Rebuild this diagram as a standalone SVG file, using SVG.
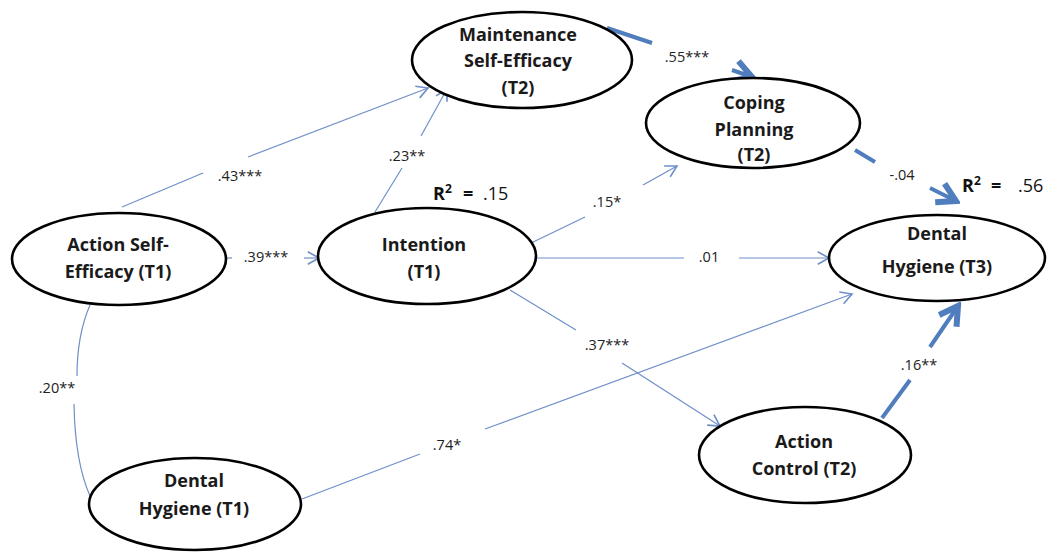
<svg xmlns="http://www.w3.org/2000/svg" width="1048" height="553" viewBox="0 0 1048 553">
<style>
.node ellipse{fill:#fff;stroke:#000;stroke-width:2.6}
.nt{font-family:"Open Sans","Liberation Sans",sans-serif;font-weight:700;font-size:18px;fill:#1a1a1a;text-anchor:middle}
.lbl{font-family:"Open Sans","Liberation Sans",sans-serif;font-size:14.5px;fill:#222;text-anchor:middle}
.r2{font-family:"Open Sans","Liberation Sans",sans-serif;font-size:18px;fill:#111}
.thin{stroke:#6f8fc8;stroke-width:1.2;fill:none}
.thick{stroke:#4f7dbd;stroke-width:4;fill:none;stroke-linecap:butt}
</style>
<defs>
<marker id="ah" markerUnits="userSpaceOnUse" markerWidth="20" markerHeight="20" viewBox="-12 -8 14 16" refX="0" refY="0" orient="auto">
<path d="M-9,-5 L0,0 L-9,5" fill="none" stroke="#6f8fc8" stroke-width="1.3"/>
</marker>
<marker id="ahT" markerUnits="userSpaceOnUse" markerWidth="30" markerHeight="30" viewBox="-16 -10 18 20" refX="0" refY="0" orient="auto">
<path d="M-12,-7 L0,0 L-12,7" fill="none" stroke="#4f7dbd" stroke-width="4"/>
</marker>
</defs>
<rect width="1048" height="553" fill="#fff"/>
<g id="connectors">
<line class="thin" x1="122" y1="207" x2="203" y2="173"/>
<line class="thin" x1="248" y1="157" x2="428" y2="88" marker-end="url(#ah)"/>
<text class="lbl" x="240" y="181">.43***</text>
<line class="thin" x1="375" y1="212" x2="402" y2="168"/>
<line class="thin" x1="421" y1="136" x2="447" y2="89" marker-end="url(#ah)"/>
<text class="lbl" x="407" y="161">.23**</text>
<line class="thin" x1="227" y1="258" x2="232" y2="258"/>
<line class="thin" x1="304" y1="258" x2="319" y2="258" marker-end="url(#ah)"/>
<text class="lbl" x="266" y="262">.39***</text>
<line class="thick" x1="607" y1="28" x2="652" y2="43"/>
<line class="thick" x1="732" y1="70" x2="752" y2="77" marker-end="url(#ahT)"/>
<text class="lbl" x="687" y="62">.55***</text>
<line class="thick" x1="855" y1="150" x2="875" y2="162"/>
<line class="thick" x1="930" y1="188" x2="956" y2="201" marker-end="url(#ahT)"/>
<text class="lbl" x="902" y="180">-.04</text>
<line class="thin" x1="529" y1="244" x2="585" y2="217"/>
<line class="thin" x1="643" y1="185" x2="677" y2="166" marker-end="url(#ah)"/>
<text class="lbl" x="607" y="207">.15*</text>
<line class="thin" x1="536" y1="258" x2="684" y2="258"/>
<line class="thin" x1="739" y1="258" x2="829" y2="258" marker-end="url(#ah)"/>
<text class="lbl" x="709" y="262">.01</text>
<line class="thin" x1="510" y1="290" x2="576" y2="330"/>
<line class="thin" x1="622" y1="363" x2="720" y2="426" marker-end="url(#ah)"/>
<text class="lbl" x="607" y="350">.37***</text>
<line class="thin" x1="302" y1="499" x2="420" y2="454"/>
<line class="thin" x1="485" y1="429" x2="852" y2="294" marker-end="url(#ah)"/>
<text class="lbl" x="447" y="450">.74*</text>
<line class="thick" x1="882" y1="418" x2="910" y2="380"/>
<line class="thick" x1="930" y1="347" x2="958" y2="306" marker-end="url(#ahT)"/>
<text class="lbl" x="919" y="370">.16**</text>
<path class="thin" d="M90,305 Q77,335 77,376"/>
<path class="thin" d="M74,404 Q75,462 90,496"/>
<text class="lbl" x="57" y="393">.20**</text>
</g>
<g id="n-maint" class="node">
<ellipse cx="522" cy="60" rx="110" ry="48"/>
<text class="nt" x="518" y="41">Maintenance</text>
<text class="nt" x="518" y="67">Self-Efficacy</text>
<text class="nt" x="518" y="94">(T2)</text>
</g>
<g id="n-coping" class="node">
<ellipse cx="753" cy="123" rx="107" ry="45"/>
<text class="nt" x="754" y="109">Coping</text>
<text class="nt" x="754" y="136">Planning</text>
<text class="nt" x="754" y="161">(T2)</text>
</g>
<g id="n-dh3" class="node">
<ellipse cx="937" cy="258" rx="108" ry="43"/>
<text class="nt" x="937" y="240">Dental</text>
<text class="nt" x="937" y="273">Hygiene (T3)</text>
</g>
<g id="n-ase" class="node">
<ellipse cx="119" cy="259" rx="107" ry="46"/>
<text class="nt" x="118" y="251">Action Self-</text>
<text class="nt" x="118" y="278">Efficacy (T1)</text>
</g>
<g id="n-int" class="node">
<ellipse cx="427" cy="256" rx="109" ry="48"/>
<text class="nt" x="424" y="251">Intention</text>
<text class="nt" x="424" y="278">(T1)</text>
</g>
<g id="n-dh1" class="node">
<ellipse cx="195" cy="504" rx="106" ry="46"/>
<text class="nt" x="194" y="487">Dental</text>
<text class="nt" x="194" y="515">Hygiene (T1)</text>
</g>
<g id="n-ac" class="node">
<ellipse cx="805" cy="455" rx="106" ry="48"/>
<text class="nt" x="804" y="448">Action</text>
<text class="nt" x="804" y="475">Control (T2)</text>
</g>
<g id="r2">
<text class="r2" x="433" y="200" font-weight="700">R<tspan font-size="12" dy="-7">2</tspan></text>
<text class="r2" x="463" y="200" font-weight="700">=</text>
<text class="r2" x="483" y="200">.15</text>
<text class="r2" x="962" y="192" font-weight="700">R<tspan font-size="12" dy="-7">2</tspan></text>
<text class="r2" x="991" y="192" font-weight="700">=</text>
<text class="r2" x="1018" y="192">.56</text>
</g>
</svg>
